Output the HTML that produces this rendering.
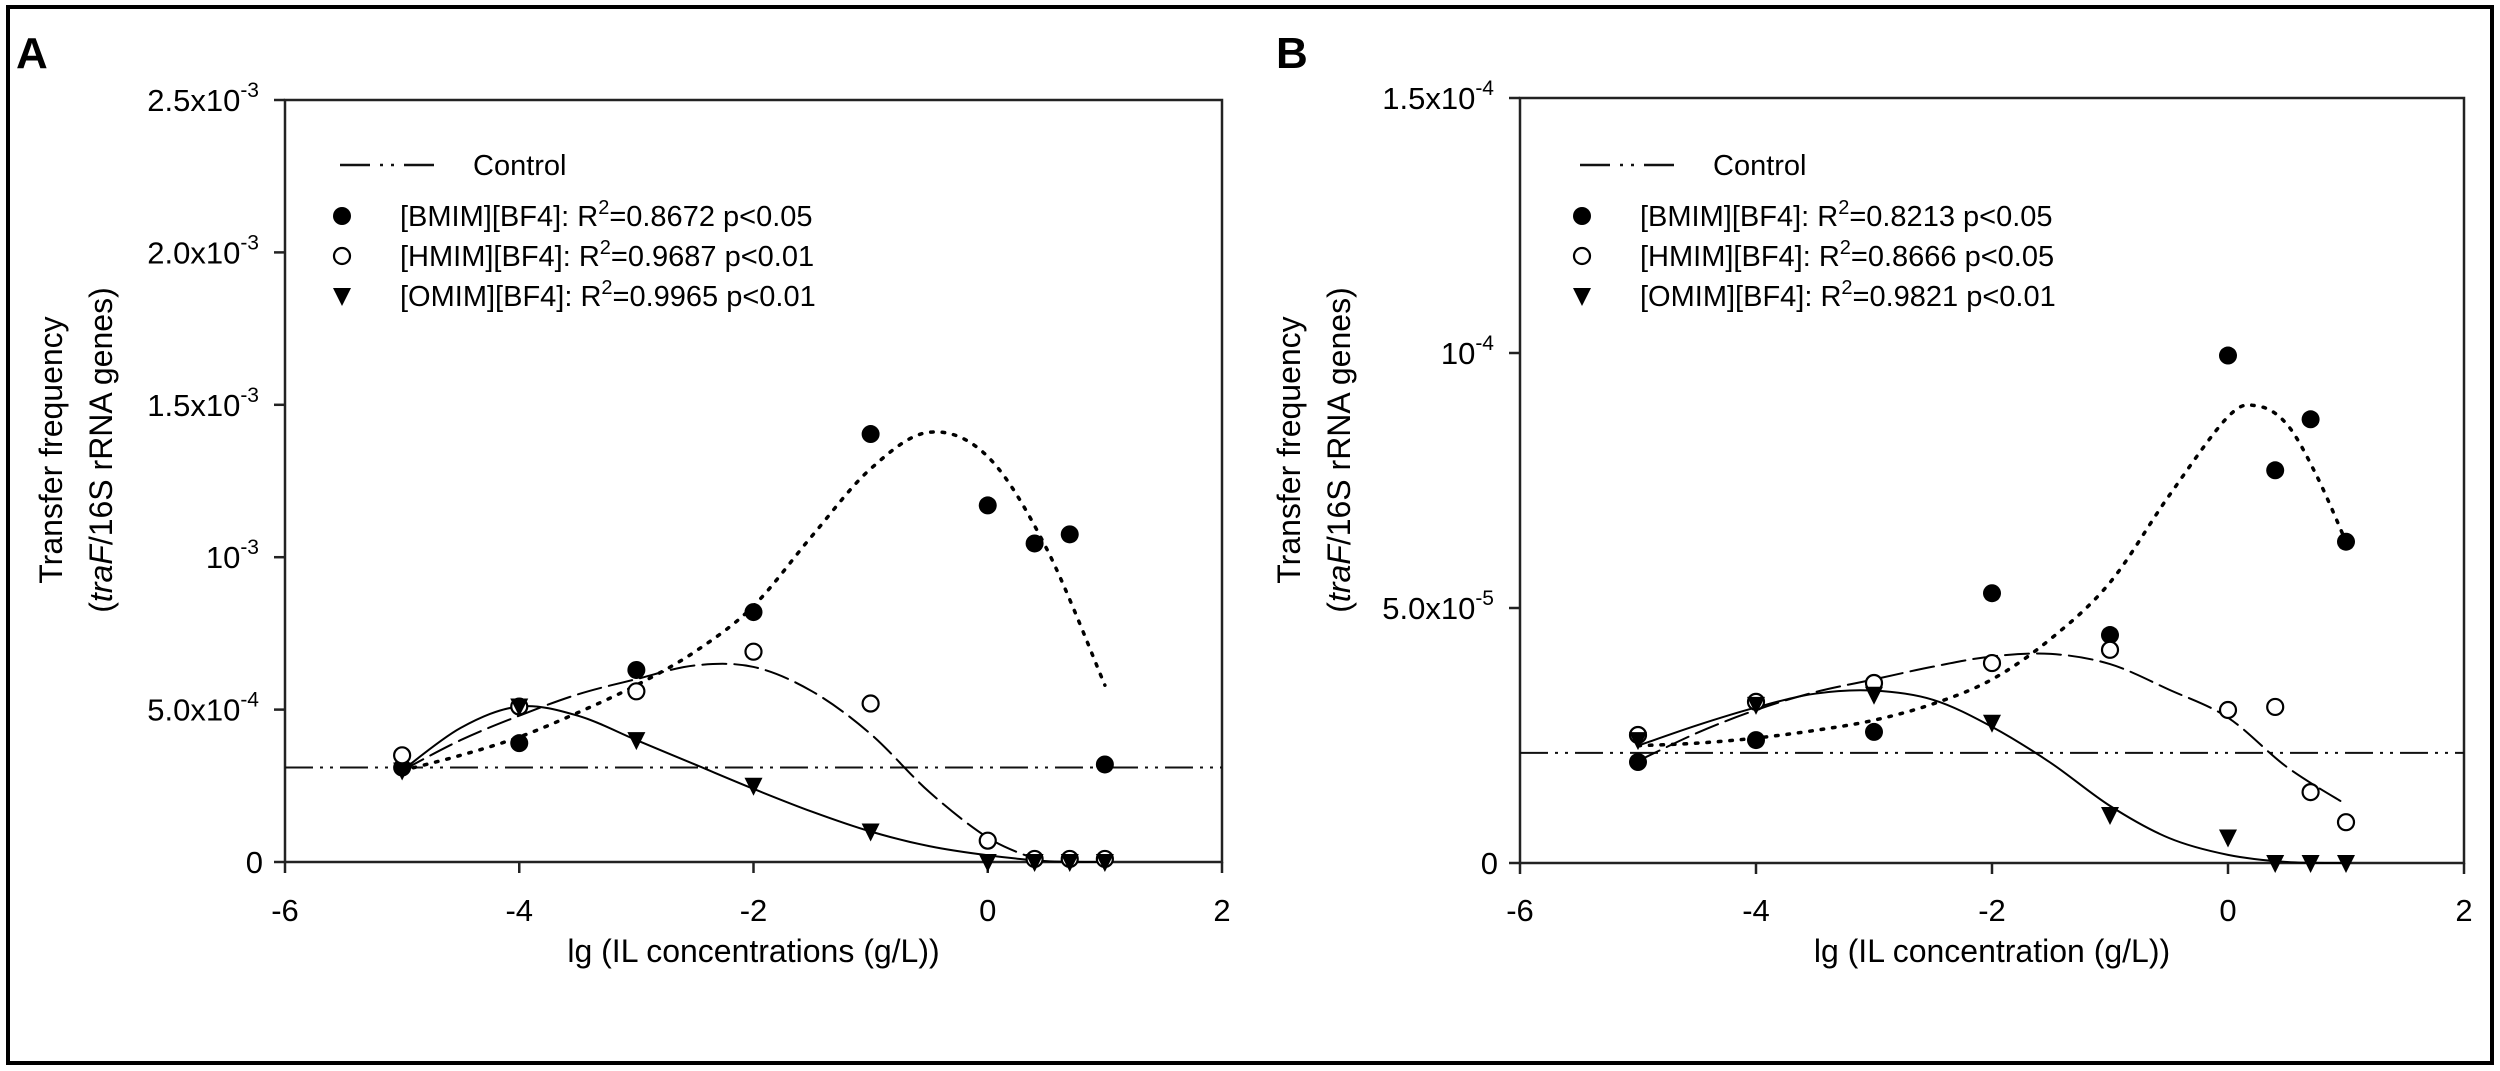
<!DOCTYPE html>
<html><head><meta charset="utf-8"><style>
html,body{margin:0;padding:0;background:#fff;}
svg{display:block;font-family:"Liberation Sans",Arial,sans-serif;}
</style></head><body>
<svg id="fig" width="2500" height="1071" viewBox="0 0 2500 1071" xmlns="http://www.w3.org/2000/svg">
<rect x="8" y="7" width="2484" height="1056" fill="#fff" stroke="#000" stroke-width="4"/>
<text x="16" y="68" font-size="44" font-weight="bold">A</text>
<text x="1276" y="68" font-size="44" font-weight="bold">B</text>
<g id="panelA"></g>
<g id="panelB"></g>
</svg>
<script>
// ---------- Panel A data ----------
const xVals = [-5,-4,-3,-2,-1,0,0.4,0.7,1];
const bmimA = [3.1e-4,3.9e-4,6.3e-4,8.2e-4,1.404e-3,1.17e-3,1.045e-3,1.075e-3,3.2e-4];
const hmimA = [3.5e-4,5.1e-4,5.6e-4,6.9e-4,5.2e-4,7e-5,1e-5,1e-5,1e-5];
const omimA = [3.0e-4,5.1e-4,4.0e-4,2.5e-4,1.0e-4,0,0,0,0];
const controlA = 3.1e-4;
const fitBmimAx = [-5,-4.5,-4,-3.5,-3,-2.5,-2,-1.5,-1,-0.5,0,0.5,1];
const fitBmimAy = [3.0e-4,3.5e-4,4.1e-4,4.9e-4,5.8e-4,6.9e-4,8.4e-4,1.07e-3,1.29e-3,1.41e-3,1.33e-3,1.03e-3,5.8e-4];
const fitHmimAx = [-5,-4.5,-4,-3.5,-3,-2.5,-2,-1.5,-1,-0.5,0,0.4];
const fitHmimAy = [3.0e-4,4.0e-4,4.8e-4,5.5e-4,6.0e-4,6.45e-4,6.4e-4,5.6e-4,4.2e-4,2.3e-4,8e-5,1e-5];
const fitOmimAx = [-5,-4.5,-4,-3.5,-3,-2.5,-2,-1.5,-1,-0.5,0,0.5,1];
const fitOmimAy = [3.0e-4,4.4e-4,5.1e-4,4.8e-4,4.0e-4,3.2e-4,2.4e-4,1.65e-4,1.0e-4,5.2e-5,2.2e-5,3e-6,0];
const yTickValsA = [0,5e-4,1e-3,1.5e-3,2e-3,2.5e-3];
const yTickMantA = ["0","5.0x10","10","1.5x10","2.0x10","2.5x10"];
const yTickExpA = ["","-4","-3","-3","-3","-3"];
const legendTextsA = ["[BMIM][BF4]: R","[HMIM][BF4]: R","[OMIM][BF4]: R"];
const legendStatsA = ["=0.8672 p<0.05","=0.9687 p<0.01","=0.9965 p<0.01"];
// ---------- Panel B data ----------
const bmimB = [1.98e-5,2.41e-5,2.57e-5,5.29e-5,4.47e-5,9.95e-5,7.7e-5,8.7e-5,6.3e-5];
const hmimB = [2.51e-5,3.16e-5,3.53e-5,3.92e-5,4.18e-5,3.0e-5,3.06e-5,1.39e-5,0.8e-5];
const omimB = [2.41e-5,3.1e-5,3.3e-5,2.75e-5,0.94e-5,0.5e-5,0,0,0];
const controlB = 2.16e-5;
const fitBmimBx = [-5,-4.5,-4,-3.5,-3,-2.5,-2,-1.5,-1,-0.5,0,0.25,0.5,0.75,1];
const fitBmimBy = [2.3e-5,2.35e-5,2.45e-5,2.6e-5,2.8e-5,3.12e-5,3.6e-5,4.4e-5,5.5e-5,7.2e-5,8.75e-5,8.96e-5,8.6e-5,7.6e-5,6.3e-5];
const fitHmimBx = [-5,-4.5,-4,-3.5,-3,-2.5,-2,-1.5,-1,-0.5,0,0.5,1];
const fitHmimBy = [2.0e-5,2.55e-5,3.0e-5,3.35e-5,3.6e-5,3.85e-5,4.05e-5,4.1e-5,3.9e-5,3.4e-5,2.85e-5,1.88e-5,1.15e-5];
const fitOmimBx = [-5,-4.5,-4,-3.5,-3,-2.5,-2,-1.5,-1,-0.5,0,0.5,1];
const fitOmimBy = [2.3e-5,2.7e-5,3.05e-5,3.32e-5,3.38e-5,3.2e-5,2.67e-5,1.96e-5,1.12e-5,4.9e-6,1.6e-6,2e-7,0];
const yTickValsB = [0,5e-5,1e-4,1.5e-4];
const yTickMantB = ["0","5.0x10","10","1.5x10"];
const yTickExpB = ["","-5","-4","-4"];
const legendStatsB = ["=0.8213 p<0.05","=0.8666 p<0.05","=0.9821 p<0.01"];
const xTickVals = [-6,-4,-2,0,2];

const NS = "http://www.w3.org/2000/svg";
function mk(tag, attrs, parent){ const e=document.createElementNS(NS,tag); for(const k in attrs) e.setAttribute(k,attrs[k]); parent.appendChild(e); return e; }
function smooth(pts){
  let d = "M"+pts[0][0]+","+pts[0][1];
  for(let i=0;i<pts.length-1;i++){
    const p0=pts[i-1]||pts[i], p1=pts[i], p2=pts[i+1], p3=pts[i+2]||p2;
    const c1=[p1[0]+(p2[0]-p0[0])/6, p1[1]+(p2[1]-p0[1])/6];
    const c2=[p2[0]-(p3[0]-p1[0])/6, p2[1]-(p3[1]-p1[1])/6];
    d += " C"+c1[0]+","+c1[1]+" "+c2[0]+","+c2[1]+" "+p2[0]+","+p2[1];
  }
  return d;
}
function marker(g, kind, cx, cy, name){
  let el;
  if(kind==="filled"){ el = mk("circle",{cx:cx,cy:cy,r:9,fill:"#000"},g); }
  else if(kind==="open"){ el = mk("circle",{cx:cx,cy:cy,r:8,fill:"#fff",stroke:"#000","stroke-width":2.2},g); }
  else { el = mk("polygon",{points:(cx-9)+","+(cy-8)+" "+(cx+9)+","+(cy-8)+" "+cx+","+(cy+10),fill:"#000"},g); }
  
  
  return el;
}
function panel(cfg){
  const g = document.getElementById(cfg.id);
  const L=cfg.left,R=cfg.right,T=cfg.top,B=cfg.bottom;
  const sx = x => L + (x+6)/8*(R-L);
  const sy = v => B - v/cfg.ymax*(B-T);
  const box = mk("rect",{x:L,y:T,width:R-L,height:B-T,fill:"none",stroke:"#222","stroke-width":2.5},g);
  
  
  cfg.yTicks.forEach((v,i)=>{
    const y=sy(v);
    const t=mk("line",{x1:L-11,y1:y,x2:L,y2:y,stroke:"#222","stroke-width":2.5},g);
    
    
    const tx=mk("text",{x:L-26,y:y+11,"font-size":31,"text-anchor":"end"},g);
    
    
    if(cfg.yExp[i]){
      const m=mk("tspan",{},tx); m.textContent=cfg.yMant[i];
      const e=mk("tspan",{dy:-14,"font-size":21},tx); e.textContent=cfg.yExp[i];
    } else { tx.textContent=cfg.yMant[i]; tx.setAttribute("x",L-22); }
  });
  xTickVals.forEach(v=>{
    const x=sx(v);
    const t=mk("line",{x1:x,y1:B,x2:x,y2:B+11,stroke:"#222","stroke-width":2.5},g);
    
    
    const tx=mk("text",{x:x,y:921,"font-size":31,"text-anchor":"middle"},g);
    
    
    tx.textContent=String(v);
  });
  const xt=mk("text",{x:(L+R)/2,y:962,"font-size":32,"text-anchor":"middle"},g);
  
  
  xt.textContent=cfg.xTitle;
  const yt=mk("text",{transform:"translate("+cfg.ytX+",450) rotate(-90)","font-size":32,"text-anchor":"middle"},g);
  
  
  const l1=mk("tspan",{x:0,y:0},yt); l1.textContent="Transfer frequency";
  const l2=mk("tspan",{x:0,y:50},yt);
  const op=mk("tspan",{},l2); op.textContent="(";
  const it=mk("tspan",{"font-style":"italic"},l2); it.textContent="traF";
  const rest=mk("tspan",{},l2); rest.textContent="/16S rRNA genes)";
  const cl=mk("line",{x1:L,y1:sy(cfg.control),x2:R,y2:sy(cfg.control),stroke:"#111","stroke-width":2,"stroke-dasharray":"28 7 3 7 3 7"},g);
  
  
  const fits=[
    [cfg.fbx,cfg.fby,"2.5 9","fit-bmim-dotted",3.5],
    [cfg.fhx,cfg.fhy,"24 8","fit-hmim-dashed",2],
    [cfg.fox,cfg.foy,"none","fit-omim-solid",2]
  ];
  fits.forEach(f=>{
    const pts=f[0].map((x,i)=>[sx(x),sy(f[1][i])]);
    const p=mk("path",{d:smooth(pts),fill:"none",stroke:"#000","stroke-width":f[4],"stroke-dasharray":f[2],"stroke-linecap":"round"},g);
    
    
  });
  xVals.forEach((x,i)=>{ marker(g,"filled",sx(x),sy(cfg.bmim[i]),"point-bmim"); });
  xVals.forEach((x,i)=>{ marker(g,"open",sx(x),sy(cfg.hmim[i]),"point-hmim"); });
  xVals.forEach((x,i)=>{ marker(g,"tri",sx(x),sy(cfg.omim[i]),"point-omim"); });
  const lg=mk("g",{},g);
  
  
  const ll=mk("line",{x1:cfg.lgX,y1:165,x2:cfg.lgX+100,y2:165,stroke:"#111","stroke-width":2.5,"stroke-dasharray":"30 10 3 8 3 10"},lg);
  
  
  const lt=mk("text",{x:cfg.lgX+133,y:175,"font-size":29},lg);
  
  
  lt.textContent="Control";
  const rows=[216,256,296], kinds=["filled","open","tri"];
  rows.forEach((ry,i)=>{
    marker(lg,kinds[i],cfg.lgX+2,ry,"legend-marker");
    const t=mk("text",{x:cfg.lgX+60,y:ry+10,"font-size":29},lg);
    
    
    const a=mk("tspan",{},t); a.textContent=legendTextsA[i];
    const s=mk("tspan",{dy:-12,"font-size":20},t); s.textContent="2";
    const b=mk("tspan",{dy:12},t); b.textContent=cfg.stats[i];
  });
}
panel({id:"panelA",left:285,right:1222,top:100,bottom:862,ymax:2.5e-3,yTicks:yTickValsA,yMant:yTickMantA,yExp:yTickExpA,
  xTitle:"lg (IL concentrations (g/L))",ytX:62,control:controlA,
  fbx:fitBmimAx,fby:fitBmimAy,fhx:fitHmimAx,fhy:fitHmimAy,fox:fitOmimAx,foy:fitOmimAy,
  bmim:bmimA,hmim:hmimA,omim:omimA,lgX:340,stats:legendStatsA});
panel({id:"panelB",left:1520,right:2464,top:98,bottom:863,ymax:1.5e-4,yTicks:yTickValsB,yMant:yTickMantB,yExp:yTickExpB,
  xTitle:"lg (IL concentration (g/L))",ytX:1300,control:controlB,
  fbx:fitBmimBx,fby:fitBmimBy,fhx:fitHmimBx,fhy:fitHmimBy,fox:fitOmimBx,foy:fitOmimBy,
  bmim:bmimB,hmim:hmimB,omim:omimB,lgX:1580,stats:legendStatsB});
</script>
</body></html>
